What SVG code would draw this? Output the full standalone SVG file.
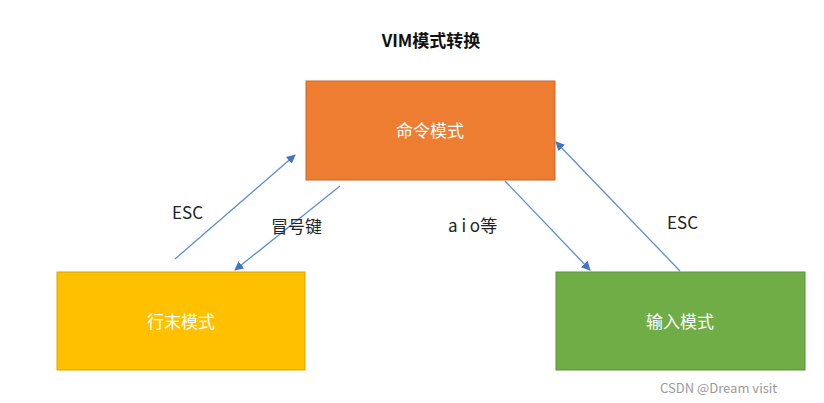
<svg xmlns="http://www.w3.org/2000/svg" width="824" height="403" viewBox="0 0 824 403">
<style>
text{font-family:"Noto Sans CJK SC","Liberation Sans",sans-serif}
.box text{fill:#fff;font-size:17px;text-anchor:middle}
.lbl{font-size:17px;fill:#222}
.c line{stroke:#5b8fd4;stroke-width:1.3;marker-end:url(#a)}
</style>
<defs><marker id="a" viewBox="0 0 10 10" refX="9" refY="5" markerWidth="7" markerHeight="7" orient="auto"><path d="M0,0L10,5L0,10z" fill="#4472c4"/></marker></defs>
<rect width="824" height="403" fill="#fff"/>
<text x="431" y="47" text-anchor="middle" font-size="17" font-weight="bold" fill="#111">VIM模式转换</text>
<g id="cmd" class="box"><rect x="306" y="81" width="249" height="99" fill="#ed7d31" stroke="#c8672a"/><text x="430" y="137">命令模式</text></g>
<g id="line" class="box"><rect x="57" y="272" width="248" height="98" fill="#ffc000" stroke="#d9a300"/><text x="181" y="328">行末模式</text></g>
<g id="ins" class="box"><rect x="556" y="272" width="249" height="98" fill="#70ad47" stroke="#5a9238"/><text x="680" y="328">输入模式</text></g>
<g class="c">
<line x1="175" y1="259" x2="295" y2="155"/>
<line x1="340" y1="186" x2="235" y2="270"/>
<line x1="505" y1="181" x2="590" y2="270"/>
<line x1="680" y1="271" x2="556" y2="142"/>
</g>
<text class="lbl" x="172" y="219">ESC</text>
<text class="lbl" x="271" y="233">冒号键</text>
<text class="lbl" x="448" y="232">a i o等</text>
<text class="lbl" x="667" y="229">ESC</text>
<text x="660" y="393" font-size="13" fill="#999">CSDN @Dream visit</text>
</svg>
